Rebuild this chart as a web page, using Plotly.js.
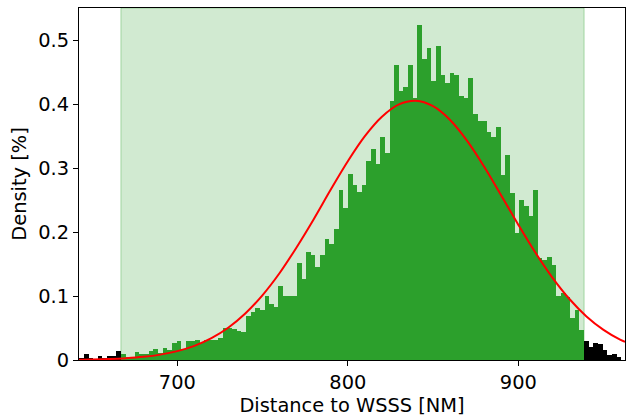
<!DOCTYPE html>
<html>
<head>
<meta charset="utf-8">
<script src="https://cdn.plot.ly/plotly-3.0.1.min.js"></script>
<style>html,body{margin:0;padding:0;background:#fff;}#chart{width:631px;height:417px;}</style>
</head>
<body>
<div id="chart"></div>
<script>
// Histogram bins (NM)
const binStart = 642.45;
const binWidth = 2.717;
// Bounds of the shaded interval (NM)
const lowerBound = 666.9;
const upperBound = 938.6;
// Density values [%] per bin
const blackLeft = [0.003, 0.009, 0.003, 0.001, 0.006, 0.003, 0.006, 0.006, 0.014];
const greenDensity = [
  0.009, 0.005, 0.005, 0.012, 0.010, 0.010, 0.014, 0.017, 0.0115, 0.019,
  0.015, 0.027, 0.030, 0.017, 0.030, 0.030, 0.032, 0.027, 0.032, 0.032,
  0.032, 0.034, 0.0495, 0.0495, 0.048, 0.045, 0.043, 0.068, 0.0755, 0.082,
  0.078, 0.100, 0.0875, 0.083, 0.1156, 0.1005, 0.1005, 0.1005, 0.151, 0.127,
  0.168, 0.164, 0.145, 0.164, 0.1885, 0.182, 0.204, 0.2656, 0.238, 0.290,
  0.273, 0.263, 0.273, 0.311, 0.329, 0.306, 0.349, 0.324, 0.405, 0.461,
  0.421, 0.427, 0.461, 0.409, 0.523, 0.471, 0.488, 0.436, 0.491, 0.445,
  0.433, 0.448, 0.445, 0.412, 0.410, 0.440, 0.384, 0.374, 0.374, 0.356,
  0.348, 0.364, 0.289, 0.321, 0.261, 0.198, 0.250, 0.241, 0.225, 0.266,
  0.160, 0.157, 0.161, 0.148, 0.100, 0.104, 0.098, 0.065, 0.078, 0.047
];
const blackRight = [0.030, 0.021, 0.027, 0.025, 0.015, 0.008, 0.009, 0.004];
// Fitted normal curve
const curveX = [642, 650, 660, 670, 680, 690, 700, 710, 720, 730, 740, 750, 760, 770, 780, 790, 800, 810, 820, 830, 840, 850, 860, 870, 880, 890, 900, 910, 920, 930, 940, 950, 960, 962.6];
const curveY = [0.0005, 0.0008, 0.0015, 0.0028, 0.0049, 0.0084, 0.0139, 0.0221, 0.0341, 0.0508, 0.0731, 0.1015, 0.136, 0.1763, 0.220, 0.2663, 0.3105, 0.3497, 0.380, 0.3993, 0.405, 0.3965, 0.375, 0.3424, 0.302, 0.2571, 0.2114, 0.1679, 0.1288, 0.0953, 0.0681, 0.0471, 0.0314, 0.0285];
const xRange = [642.3, 962.6];
const xTitle = 'Distance to WSSS [NM]';
const yTitle = 'Density [%]';

const nL = blackLeft.length, nG = greenDensity.length;
const centers = (offset, n) => Array.from({length: n}, (_, i) => binStart + (offset + i + 0.5) * binWidth);

const traces = [
  {type: 'bar', x: centers(0, nL), y: blackLeft, width: binWidth, marker: {color: '#000000', line: {width: 0}}, hoverinfo: 'skip'},
  {type: 'bar', x: centers(nL, nG), y: greenDensity, width: binWidth, marker: {color: '#2ca02c', line: {width: 0}}, hoverinfo: 'skip'},
  {type: 'bar', x: centers(nL + nG, blackRight.length), y: blackRight, width: binWidth, marker: {color: '#000000', line: {width: 0}}, hoverinfo: 'skip'},
  {type: 'scatter', mode: 'lines', x: curveX, y: curveY, line: {color: '#ff0000', width: 2, shape: 'spline'}, hoverinfo: 'skip'}
];

const font = {family: 'DejaVu Sans, sans-serif', size: 19.4, color: '#000'};
const layout = {
  width: 631, height: 417,
  margin: {l: 79, r: 6, t: 8, b: 57},
  paper_bgcolor: '#fff', plot_bgcolor: 'rgba(0,0,0,0)',
  showlegend: false, barmode: 'overlay', bargap: 0,
  font: font,
  xaxis: {
    range: xRange, tickmode: 'linear', tick0: 0, dtick: 100,
    showgrid: false, zeroline: false,
    showline: true, linecolor: '#000', linewidth: 1, mirror: true,
    ticks: 'outside', ticklen: 5, tickcolor: '#000', tickfont: font,
    title: {text: xTitle, font: font, standoff: 2}
  },
  yaxis: {
    range: [0, 0.55], tickmode: 'linear', tick0: 0, dtick: 0.1,
    showgrid: false, zeroline: false,
    showline: true, linecolor: '#000', linewidth: 1, mirror: true,
    ticks: 'outside', ticklen: 5, tickcolor: '#000', tickfont: font,
    title: {text: yTitle, font: font, standoff: 6}
  },
  shapes: [{
    type: 'rect', xref: 'x', yref: 'paper', x0: lowerBound, x1: upperBound, y0: 0, y1: 1,
    fillcolor: 'rgba(44,160,44,0.22)', line: {color: 'rgba(44,160,44,0.35)', width: 1}, layer: 'below'
  }]
};

Plotly.newPlot('chart', traces, layout, {staticPlot: true, displayModeBar: false});
</script>
</body>
</html>
